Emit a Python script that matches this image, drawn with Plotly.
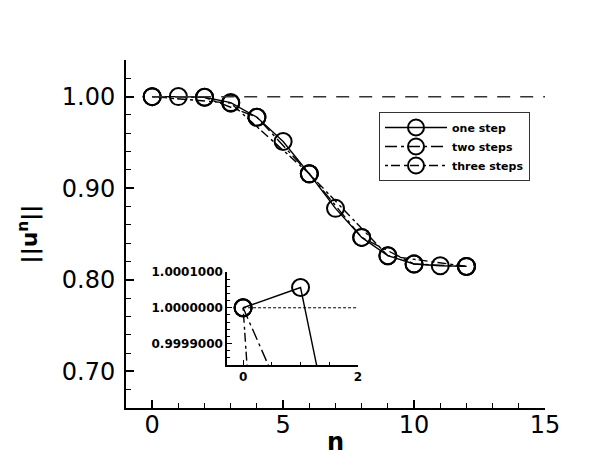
import plotly.graph_objects as go

# ---- data ----
n_one = [0, 1, 2, 3, 4, 5, 6, 7, 8, 9, 10, 11, 12]
u_one = [1.0, 1.0000567, 0.99928, 0.9935, 0.9775, 0.951, 0.9157, 0.878, 0.8463, 0.8263, 0.8172, 0.8154, 0.8146]
n_two = [0, 2, 4, 6, 8, 10, 12]
u_two = [1.0, 0.99927, 0.9775, 0.9157, 0.8463, 0.8172, 0.8146]
n_three = [0, 3, 6, 9, 12]
u_three = [1.0, 0.9929, 0.9157, 0.8263, 0.8146]
ref_main_x = [0, 15]
ref_main_y = [1.0, 1.0]
ref_inset_x = [0, 2]
ref_inset_y = [1.0, 1.0]
names = ["one step", "two steps", "three steps"]
main_yticks = [0.70, 0.80, 0.90, 1.00]
inset_yticks = [0.9999, 1.0000, 1.0001]

FONT = "DejaVu Sans"
marker = dict(symbol="circle-open", size=17, color="black", line=dict(width=2, color="black"))

series = [
    (n_one, u_one, "solid"),
    (n_two, u_two, "12px,4px,3px,4px"),
    (n_three, u_three, "3px,3px,9px,4px"),
]

fig = go.Figure()
for (xs, ys, dash), nm in zip(series, names):
    fig.add_trace(go.Scatter(x=xs, y=ys, mode="lines+markers", name=nm,
                             line=dict(color="black", width=1.4, dash=dash),
                             marker=marker, xaxis="x", yaxis="y"))
fig.add_trace(go.Scatter(x=ref_main_x, y=ref_main_y, mode="lines", showlegend=False,
                         line=dict(color="#333333", width=1.5, dash="13px,10px"),
                         xaxis="x", yaxis="y"))
# inset
fig.add_trace(go.Scatter(x=ref_inset_x, y=ref_inset_y, mode="lines", showlegend=False,
                         line=dict(color="black", width=1, dash="3px,2px"),
                         xaxis="x2", yaxis="y2"))
for (xs, ys, dash), nm in zip(series, names):
    fig.add_trace(go.Scatter(x=xs, y=ys, mode="lines+markers", showlegend=False,
                             line=dict(color="black", width=1.4, dash=dash),
                             marker=marker, xaxis="x2", yaxis="y2"))

# page is offset by the 8px body margin
OFF = 8
W, H = 602 - OFF, 456 - OFF
PL, PR, PT, PB = 126, 545, 60, 408          # plot area in page pixels
L, R, T, B = PL - OFF, W - (PR - OFF), PT - OFF, H - (PB - OFF)
pw, ph = W - L - R, H - T - B

def px_x(p):
    return (p - PL) / pw

def px_y(p):
    return (PB - p) / ph

fig.update_layout(
    width=W, height=H,
    margin=dict(l=L, r=R, t=T, b=B, autoexpand=False),
    paper_bgcolor="white", plot_bgcolor="rgba(0,0,0,0)",
    showlegend=True,
    legend=dict(x=px_x(379), y=px_y(112), xanchor="left", yanchor="top",
                bordercolor="#333333", borderwidth=1, bgcolor="white",
                font=dict(family=FONT, size=11, color="black", weight="bold"),
                itemwidth=62, tracegroupgap=0),
    xaxis=dict(domain=[0, 1], range=[-1, 15], tick0=0, dtick=5, automargin=False,
               ticks="inside", ticklen=8, tickwidth=1.5, tickcolor="black",
               minor=dict(dtick=1, ticks="inside", ticklen=5, tickwidth=1, tickcolor="black"),
               showline=True, linewidth=2, linecolor="black", showgrid=False, zeroline=False,
               ticklabelstandoff=-6,
               tickfont=dict(family=FONT, size=24, color="black"),
               title=dict(text="n", font=dict(family=FONT, size=24, color="black", weight="bold"), standoff=0)),
    yaxis=dict(domain=[0, 1], range=[0.66, 1.04], tickvals=main_yticks, tickformat=".2f", automargin=False,
               ticks="inside", ticklen=8, tickwidth=1.5, tickcolor="black",
               minor=dict(dtick=0.02, tick0=0, ticks="inside", ticklen=5, tickwidth=1, tickcolor="black"),
               showline=True, linewidth=2, linecolor="black", showgrid=False, zeroline=False,
               ticklabelstandoff=4,
               tickfont=dict(family=FONT, size=24, color="black"),
               title=dict(text="||u<sup>n</sup>||", font=dict(family=FONT, size=22, color="black", weight="bold"), standoff=18)),
    xaxis2=dict(domain=[px_x(227), px_x(358)], anchor="y2", range=[-0.28, 2], tick0=0, dtick=2, automargin=False,
                ticks="inside", ticklen=5, tickwidth=1, tickcolor="black",
                minor=dict(dtick=0.5, ticks="inside", ticklen=3, tickwidth=1, tickcolor="black"),
                showline=True, linewidth=1.5, linecolor="black", showgrid=False, zeroline=False,
                tickfont=dict(family=FONT, size=12, color="black", weight="bold")),
    yaxis2=dict(domain=[px_y(365), px_y(272)], anchor="x2", range=[0.99984, 1.0001], automargin=False,
                tickvals=inset_yticks, tickformat=".7f",
                ticks="inside", ticklen=5, tickwidth=1, tickcolor="black",
                minor=dict(dtick=0.00002, tick0=0.9999, ticks="inside", ticklen=3, tickwidth=1, tickcolor="black"),
                showline=True, linewidth=1.5, linecolor="black", showgrid=False, zeroline=False,
                tickfont=dict(family=FONT, size=12, color="black", weight="bold")),
)

fig.write_html("out.html")
